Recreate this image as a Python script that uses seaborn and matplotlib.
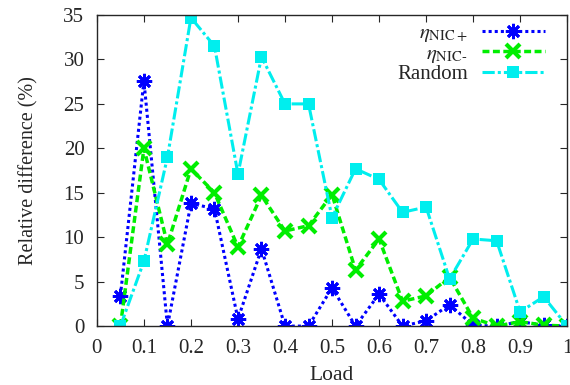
import matplotlib
matplotlib.use("Agg")
import matplotlib.pyplot as plt
import seaborn as sns
import numpy as np

load = [0.05, 0.10, 0.15, 0.20, 0.25, 0.30, 0.35, 0.40, 0.45, 0.50,
        0.55, 0.60, 0.65, 0.70, 0.75, 0.80, 0.85, 0.90, 0.95, 1.00]
nic_plus = [3.4, 27.6, 0.0, 13.8, 13.2, 0.8, 8.7, 0.0, 0.0, 4.3,
            0.0, 3.6, 0.0, 0.6, 2.4, 0.1, 0.0, 0.5, 0.1, 0.0]
nic_minus = [0.0, 20.0, 9.2, 17.7, 15.0, 8.9, 14.7, 10.7, 11.3, 14.8,
             6.3, 9.8, 2.8, 3.4, 5.5, 0.9, 0.0, 0.5, 0.1, 0.0]
random_ = [0.0, 7.3, 19.0, 34.7, 31.5, 17.1, 30.3, 25.0, 25.0, 12.2,
           17.7, 16.5, 12.8, 13.4, 5.3, 9.8, 9.6, 1.6, 3.3, 0.0]

xticks = [0, 0.1, 0.2, 0.3, 0.4, 0.5, 0.6, 0.7, 0.8, 0.9, 1]
xticklabels = ["0", "0.1", "0.2", "0.3", "0.4", "0.5", "0.6", "0.7", "0.8", "0.9", "1"]
yticks = [0, 5, 10, 15, 20, 25, 30, 35]

sns.set_style("ticks")
plt.rcParams['font.family'] = ['Liberation Serif', 'DejaVu Serif']
plt.rcParams['mathtext.fontset'] = 'stix'

fig = plt.figure(figsize=(5.7, 3.85), dpi=100)
ax = fig.add_axes([0.170, 0.153, 0.825, 0.808])

sns.lineplot(x=load, y=nic_plus, ax=ax, color='#0000ff', linestyle=(0, (1, 1)),
             linewidth=2.2, label=r'$\eta_{\rm NIC+}$')
sns.lineplot(x=load, y=nic_minus, ax=ax, color='#00ee00', linestyle=(0, (2, 1)),
             linewidth=2.5, label=r'$\eta_{\rm NIC\text{-}}$')
sns.lineplot(x=load, y=random_, ax=ax, color='#00eeee', linestyle=(0, (4, 1, 1, 1)),
             linewidth=2.2, label='Random')

l1, l2, l3 = ax.lines[:3]
l1.set_marker((8, 2, 0)); l1.set_markersize(11); l1.set_markeredgewidth(2.0)
l1.set_markeredgecolor('#0000ff'); l1.set_markerfacecolor('#0000ff')
l2.set_marker('x'); l2.set_markersize(10); l2.set_markeredgewidth(3)
l2.set_markeredgecolor('#00ee00')
l3.set_marker('s'); l3.set_markersize(9); l3.set_markeredgewidth(0)
l3.set_markerfacecolor('#00eeee')

ax.set_xlim(0, 1)
ax.set_ylim(0, 35)
ax.set_xticks(xticks)
ax.set_xticklabels(xticklabels)
ax.set_yticks(yticks)
ax.tick_params(direction='in', top=True, right=True, labelsize=15, length=5)
ax.tick_params(axis='x', pad=9)
ax.tick_params(axis='y', pad=9)
for s in ax.spines.values():
    s.set_linewidth(1.0)
ax.set_xlabel('Load', fontsize=15.5, labelpad=6)
ax.set_ylabel('Relative difference (%)', fontsize=14.5, labelpad=18)

leg = ax.legend(loc='upper right', frameon=False, markerfirst=False, fontsize=15,
                handlelength=3.0, borderaxespad=0.0, labelspacing=0.0,
                handletextpad=0.7, bbox_to_anchor=(0.97, 1.0))

fig.savefig('out.png', dpi=100)
